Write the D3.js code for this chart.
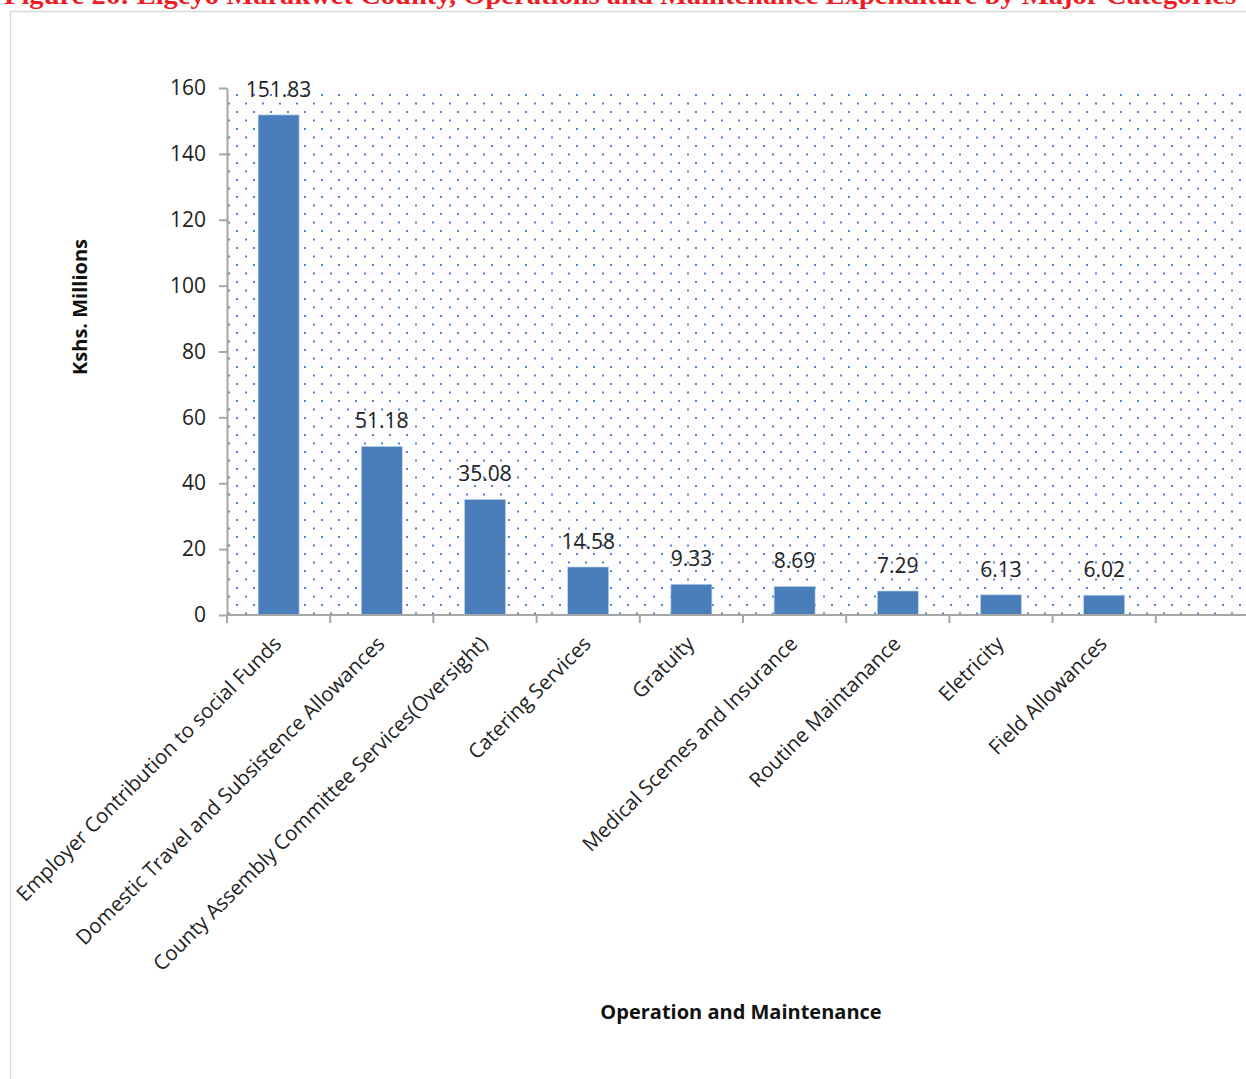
<!DOCTYPE html>
<html><head><meta charset="utf-8">
<script src="https://cdn.jsdelivr.net/npm/d3@7"></script>
<style>body{margin:0;background:#fff;} svg{display:block;}</style>
</head><body>
<script>
const categories = ["Employer Contribution to social Funds","Domestic Travel and Subsistence Allowances","County Assembly Committee Services(Oversight)","Catering Services","Gratuity","Medical Scemes and Insurance","Routine Maintanance","Eletricity","Field Allowances"];
const values = [151.83, 51.18, 35.08, 14.58, 9.33, 8.69, 7.29, 6.13, 6.02];
const yTicks = [0, 20, 40, 60, 80, 100, 120, 140, 160];
const titleText = "Figure 26: Elgeyo Marakwet County, Operations and Maintenance Expenditure by Major Categories";

const W = 1246, H = 1079;
const svg = d3.select("body").append("svg").attr("width", W).attr("height", H);
const font = "'Open Sans', 'Liberation Sans', sans-serif";

// frame
svg.append("rect").attr("x", 10.5).attr("y", 11.5).attr("width", W).attr("height", H)
  .attr("fill", "#fff").attr("stroke", "#d9d9d9").attr("stroke-width", 1.5);

// title (cut off at the top edge, as in the reference)
svg.append("text").attr("x", 4).attr("y", 4).attr("fill", "#ee1c25")
  .attr("font-family", "'Liberation Serif', 'DejaVu Serif', serif").attr("font-weight", "bold")
  .attr("font-size", 25).attr("textLength", 1232).attr("lengthAdjust", "spacingAndGlyphs")
  .text(titleText);

const x0 = 227, plotTop = 88, plotBottom = 615, bandW = 103.2;
const x = d3.scaleBand().domain(categories).range([x0, x0 + bandW * categories.length]).paddingInner(0).paddingOuter(0);
const y = d3.scaleLinear().domain([0, 160]).range([plotBottom, plotTop]);

// pattern
const defs = svg.append("defs");
const pat = defs.append("pattern").attr("id", "dots").attr("patternUnits", "userSpaceOnUse")
  .attr("width", 17).attr("height", 17).attr("x", x0 + 1).attr("y", plotTop + 6);
pat.append("rect").attr("width", 17).attr("height", 17).attr("fill", "#fdfdfd");
pat.append("rect").attr("x", 8).attr("y", 0).attr("width", 2).attr("height", 2).attr("fill", "#4f86d0");
pat.append("rect").attr("x", 0).attr("y", 8.5).attr("width", 2).attr("height", 2).attr("fill", "#4f86d0");
svg.append("rect").attr("x", x0).attr("y", plotTop).attr("width", W - x0).attr("height", plotBottom - plotTop)
  .attr("fill", "url(#dots)");

// bars
svg.selectAll("rect.bar").data(values).join("rect").attr("class", "bar")
  .attr("x", (d, i) => x(categories[i]) + (x.bandwidth() - 41) / 2)
  .attr("width", 41)
  .attr("y", d => y(d)).attr("height", d => plotBottom - y(d))
  .attr("fill", "#4a7ebb").attr("stroke", "#c6d6ea").attr("stroke-width", 0.6);

// value labels
svg.selectAll("text.val").data(values).join("text").attr("class", "val")
  .attr("x", (d, i) => x(categories[i]) + x.bandwidth() / 2)
  .attr("y", d => y(d) - 18)
  .attr("text-anchor", "middle").attr("font-family", font).attr("font-size", 21).attr("fill", "#222")
  .text(d => d.toFixed(2));

// y axis
const yAxis = d3.axisLeft(y).tickValues(yTicks).tickSize(8).tickSizeOuter(0).tickPadding(13);
const gy = svg.append("g").attr("transform", `translate(${x0},0)`).call(yAxis);
gy.select(".domain").attr("stroke", "#a6a6a6").attr("stroke-width", 2);
gy.selectAll(".tick line").attr("stroke", "#a6a6a6").attr("stroke-width", 2);
gy.selectAll(".tick text").attr("font-family", font).attr("font-size", 21).attr("fill", "#222");

// x axis
svg.append("line").attr("x1", x0).attr("x2", W).attr("y1", plotBottom).attr("y2", plotBottom)
  .attr("stroke", "#a6a6a6").attr("stroke-width", 2);
const bounds = categories.map(c => x(c)).concat([x(categories[categories.length - 1]) + x.bandwidth()]);
svg.selectAll("line.xt").data(bounds).join("line").attr("class", "xt")
  .attr("x1", d => d).attr("x2", d => d).attr("y1", plotBottom).attr("y2", plotBottom + 8)
  .attr("stroke", "#a6a6a6").attr("stroke-width", 2);

// category labels
svg.selectAll("text.cat").data(categories).join("text").attr("class", "cat")
  .attr("transform", c => `translate(${x(c) + x.bandwidth() / 2 + 4},${plotBottom + 30}) rotate(-45)`)
  .attr("text-anchor", "end").attr("font-family", font).attr("font-size", 20.5).attr("fill", "#222")
  .text(c => c);

// axis titles
svg.append("text").attr("transform", "translate(87,307) rotate(-90)").attr("text-anchor", "middle")
  .attr("font-family", font).attr("font-weight", "bold").attr("font-size", 20).attr("fill", "#111")
  .text("Kshs. Millions");
svg.append("text").attr("x", 741).attr("y", 1019).attr("text-anchor", "middle")
  .attr("font-family", font).attr("font-weight", "bold").attr("font-size", 20).attr("fill", "#111")
  .text("Operation and Maintenance");
</script>
</body></html>
